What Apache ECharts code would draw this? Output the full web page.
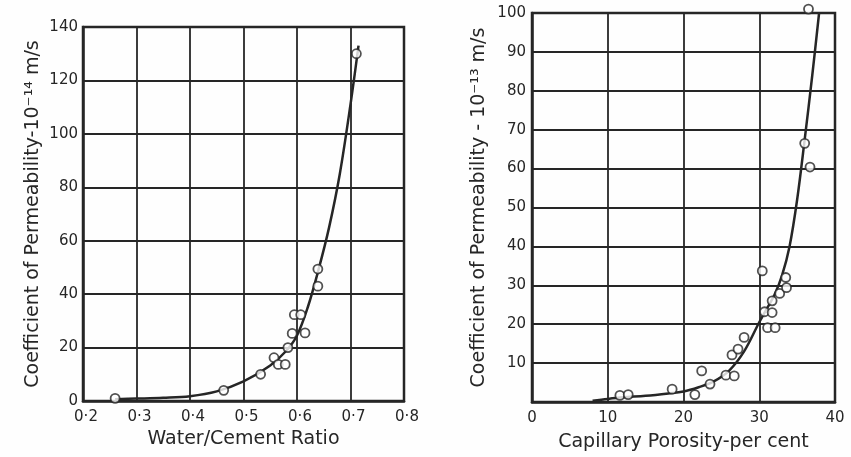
<!DOCTYPE html>
<html>
<head>
<meta charset="utf-8">
<script src="https://cdn.jsdelivr.net/npm/echarts@6/dist/echarts.min.js"></script>
<style>
html,body{margin:0;padding:0;background:#fefefe;}
#chart{width:851px;height:457px;}
</style>
</head>
<body>
<div id="chart"></div>
<script>
// Left panel: water/cement ratio vs permeability (10^-14 m/s)
const wcRatio      = [0.26, 0.463, 0.532, 0.557, 0.565, 0.578, 0.583, 0.591, 0.595, 0.607, 0.615, 0.639, 0.639, 0.711];
const permLeft     = [1, 4, 10, 16.2, 13.7, 13.7, 20, 25.3, 32.3, 32.3, 25.5, 49.4, 43, 130];
const curveLeftX   = [0.26, 0.3, 0.35, 0.4, 0.45, 0.5, 0.55, 0.58, 0.6, 0.62, 0.64, 0.66, 0.68, 0.7, 0.715];
const curveLeftY   = [0.7, 0.9, 1.2, 1.8, 3.6, 7.3, 13.3, 18.8, 24.5, 35, 49, 65, 85, 111, 133];
const leftXTicks   = [0.2, 0.8, 0.1];   // min, max, interval
const leftYTicks   = [0, 140, 20];

// Right panel: capillary porosity vs permeability (10^-13 m/s)
const porosity     = [11.6, 12.7, 18.5, 21.5, 22.4, 23.5, 25.6, 26.7, 26.4, 27.2, 28.0, 30.4, 30.7, 31.7, 31.1, 32.1, 31.7, 32.7, 33.6, 33.5, 36.0, 36.7, 36.5];
const permRight    = [1.7, 1.9, 3.3, 1.9, 8.0, 4.6, 6.9, 6.7, 12.1, 13.6, 16.6, 33.7, 23.2, 23.0, 19.1, 19.1, 26.0, 27.9, 29.4, 32.0, 66.5, 60.4, 101];
const curveRightX  = [8, 10, 12, 15, 18, 20, 22, 24, 26, 28, 30, 31, 32, 33, 34, 35, 36, 37, 37.9];
const curveRightY  = [0.3, 0.8, 1.2, 1.6, 2.2, 2.7, 3.8, 5.3, 8, 13, 20.5, 24, 27.5, 32.5, 40, 52, 67.5, 84, 100];
const rightXTicks  = [0, 40, 10];
const rightYTicks  = [0, 100, 10];

const ink = '#262626';
const fontFam = '"DejaVu Sans", sans-serif';

function pairs(xs, ys){ return xs.map((x,i)=>[x, ys[i]]); }

function axisBase(t){
  return {
    type:'value', min:t[0], max:t[1], interval:t[2],
    axisLine:{show:true, onZero:false, lineStyle:{color:ink, width:2.5}},
    axisTick:{show:false},
    splitLine:{show:true, lineStyle:{color:ink, width:1.8}},
    axisLabel:{color:ink, fontSize:15, fontFamily:fontFam},
    nameTextStyle:{color:ink, fontSize:19, fontFamily:fontFam},
    nameLocation:'middle'
  };
}

const chart = echarts.init(document.getElementById('chart'));
const xL = axisBase(leftXTicks);
xL.gridIndex = 0; xL.name = 'Water/Cement Ratio'; xL.nameGap = 27;
xL.axisLabel.margin = 9;
xL.axisLabel.padding = [0, 0, 0, 6];
xL.axisLabel.formatter = v => v.toFixed(1).replace('.', '·');
const yL = axisBase(leftYTicks);
yL.gridIndex = 0; yL.name = 'Coefficient of Permeability-10⁻¹⁴ m/s'; yL.nameGap = 40; yL.nameRotate = 90;
yL.axisLabel.margin = 5;
const xR = axisBase(rightXTicks);
xR.gridIndex = 1; xR.name = 'Capillary Porosity-per cent'; xR.nameGap = 31;
xR.axisLabel.margin = 9;
const yR = axisBase(rightYTicks);
yR.gridIndex = 1; yR.name = 'Coefficient of Permeability - 10⁻¹³ m/s'; yR.nameGap = 43; yR.nameRotate = 90;
yR.axisLabel.margin = 6;
yR.axisLabel.formatter = v => v === 0 ? '' : String(v);

const symStyle = {color:'#ffffff', borderColor:ink, borderWidth:1.8};

chart.setOption({
  backgroundColor:'#fefefe',
  animation:false,
  grid:[
    {left:83, top:27, width:321, height:374, show:true, borderColor:ink, borderWidth:2.5, backgroundColor:'transparent'},
    {left:532, top:13, width:303, height:389, show:true, borderColor:ink, borderWidth:2.5, backgroundColor:'transparent'}
  ],
  xAxis:[xL, xR],
  yAxis:[yL, yR],
  series:[
    {type:'line', xAxisIndex:0, yAxisIndex:0, data:pairs(curveLeftX, curveLeftY), smooth:0.35, showSymbol:false,
     lineStyle:{color:ink, width:2.5}, z:3},
    {type:'scatter', xAxisIndex:0, yAxisIndex:0, data:pairs(wcRatio, permLeft), symbol:'circle', symbolSize:9,
     itemStyle:symStyle, clip:false, z:4},
    {type:'line', xAxisIndex:1, yAxisIndex:1, data:pairs(curveRightX, curveRightY), smooth:0.35, showSymbol:false,
     lineStyle:{color:ink, width:2.5}, z:3},
    {type:'scatter', xAxisIndex:1, yAxisIndex:1, data:pairs(porosity, permRight), symbol:'circle', symbolSize:9,
     itemStyle:symStyle, clip:false, z:4}
  ]
});
</script>
</body>
</html>
